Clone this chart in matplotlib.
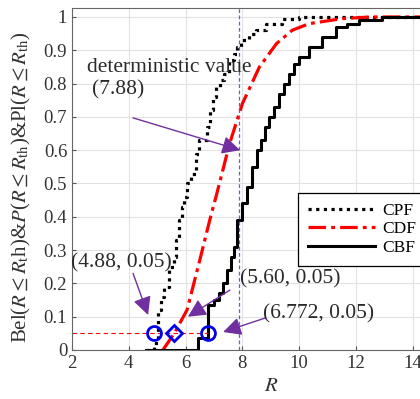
import matplotlib
matplotlib.use("Agg")
import matplotlib.pyplot as plt

plt.rcParams["font.family"] = ["Liberation Serif", "DejaVu Serif"]
plt.rcParams["mathtext.fontset"] = "stix"

# Cumulative plausibility function (step curve)
cpf_r = [4.60, 4.89, 5.02, 5.12, 5.24, 5.40, 5.58, 5.66, 5.77, 5.87, 5.94, 6.05,
         6.19, 6.37, 6.47, 6.75, 6.85, 6.95, 7.08, 7.20, 7.35, 7.53, 7.70, 7.80,
         7.95, 8.23, 8.48, 8.83, 9.40, 10.0, 14.5]
cpf_p = [0.00, 0.02, 0.12, 0.16, 0.19, 0.25, 0.28, 0.33, 0.39, 0.43, 0.46, 0.50,
         0.53, 0.59, 0.63, 0.67, 0.72, 0.76, 0.79, 0.81, 0.83, 0.87, 0.89, 0.91,
         0.93, 0.95, 0.96, 0.98, 0.994, 1.0, 1.0]

# Cumulative distribution function (smooth curve)
cdf_r = [5.20, 5.60, 6.05, 6.50, 6.85, 7.10, 7.55, 8.00, 8.60, 9.20, 9.75,
         10.35, 11.5, 12.5, 14.5]
cdf_p = [0.00, 0.05, 0.12, 0.27, 0.39, 0.47, 0.62, 0.74, 0.85, 0.92, 0.96,
         0.98, 0.995, 1.0, 1.0]

# Cumulative belief function (step curve)
cbf_r = [4.60, 6.42, 6.79, 7.00, 7.18, 7.30, 7.46, 7.60, 7.70, 7.80, 8.00, 8.17,
         8.34, 8.50, 8.65, 8.80, 8.94, 9.10, 9.29, 9.45, 9.64, 9.80, 10.0, 10.35,
         10.8, 11.3, 11.7, 12.1, 12.9, 14.5]
cbf_p = [0.00, 0.035, 0.135, 0.15, 0.17, 0.20, 0.24, 0.28, 0.31, 0.39, 0.44, 0.49,
         0.55, 0.60, 0.63, 0.67, 0.70, 0.73, 0.77, 0.80, 0.83, 0.86, 0.88, 0.91,
         0.94, 0.97, 0.98, 0.99, 1.0, 1.0]

# Thresholds at probability level 0.05 and the deterministic value
level = 0.05
pts_circle = [4.88, 6.772]
pt_diamond = 5.60
r_det = 7.88

purple = "#7030A0"

fig = plt.figure(figsize=(4.20, 3.99), dpi=100)
ax = fig.add_axes([72 / 420, 49 / 399, 397.6 / 420, 342 / 399])
ax.set_xlim(2, 16)
ax.set_ylim(0, 1.027)

ax.grid(True, color="#e2e2e2", linewidth=0.8)
ax.set_axisbelow(True)
ax.set_xticks([2, 4, 6, 8, 10, 12, 14])
ax.set_yticks([0, 0.1, 0.2, 0.3, 0.4, 0.5, 0.6, 0.7, 0.8, 0.9, 1.0])
ax.set_yticklabels(["0", "0.1", "0.2", "0.3", "0.4", "0.5", "0.6", "0.7", "0.8", "0.9", "1"])
ax.tick_params(direction="in", labelsize=13.5, color="#555555", length=3,
               labelcolor="#333333")
for s in ax.spines.values():
    s.set_color("#666666")
    s.set_linewidth(0.8)

ax.step(cpf_r, cpf_p, where="post", color="black", linestyle=(0, (1, 1.4)),
        linewidth=2.3, label="CPF")
ax.plot(cdf_r, cdf_p, color="red", linestyle=(0, (5.5, 1.6, 1.2, 1.6)),
        linewidth=2.3, label="CDF")
ax.step(cbf_r, cbf_p, where="post", color="black", linewidth=2.2, label="CBF")

ax.plot([2, pts_circle[1]], [level, level], color="red", linestyle=(0, (4, 3)),
        linewidth=0.8)
ax.axvline(r_det, color="#6060dd", linestyle=(0, (3, 2)), linewidth=0.9)

ax.plot(pts_circle, [level, level], linestyle="none", marker="o", markersize=10,
        markerfacecolor="none", markeredgecolor="#0000ee", markeredgewidth=2)
ax.plot([pt_diamond], [level], linestyle="none", marker="D", markersize=8,
        markerfacecolor="none", markeredgecolor="#0000ee", markeredgewidth=2)

arrow = dict(arrowstyle="-|>,head_length=1.1,head_width=0.55", color=purple,
             linewidth=1.0, shrinkA=0, shrinkB=0)
ax.annotate("", xy=(7.92, 0.60), xytext=(4.15, 0.697), arrowprops=arrow)
ax.annotate("", xy=(4.68, 0.105), xytext=(4.15, 0.23), arrowprops=arrow)
ax.annotate("", xy=(6.08, 0.10), xytext=(7.56, 0.18), arrowprops=arrow)
ax.annotate("", xy=(7.32, 0.054), xytext=(8.80, 0.096), arrowprops=arrow)

tfs = 15.5
tc = "#2a2a2a"
ax.text(2.53, 0.847, "deterministic value", fontsize=tfs, va="center", ha="left", color=tc)
ax.text(2.70, 0.78, "(7.88)", fontsize=tfs, va="center", ha="left", color=tc)
ax.text(1.98, 0.262, "(4.88, 0.05)", fontsize=tfs, va="center", ha="left", color=tc)
ax.text(7.92, 0.213, "(5.60, 0.05)", fontsize=tfs, va="center", ha="left", color=tc)
ax.text(8.73, 0.110, "(6.772, 0.05)", fontsize=tfs, va="center", ha="left", color=tc)

ax.set_xlabel(r"$R$", fontsize=15, labelpad=4, color="#333333")
ax.set_ylabel(r"Bel($R\leq R_{\mathrm{t}}$h)&$P$($R\leq R_{\mathrm{th}}$)&Pl($R\leq R_{\mathrm{th}}$)",
              fontsize=15, color="#333333")
ax.yaxis.set_label_coords(-0.098, 0.477)

leg = ax.legend(loc="upper left", bbox_to_anchor=((298 - 72) / 397.6, (350 - 193) / 342),
                borderaxespad=0, fontsize=12.5, handlelength=3.9, handletextpad=0.4,
                labelspacing=0.15, borderpad=0.55, fancybox=False,
                edgecolor="black", framealpha=1)
leg.get_frame().set_linewidth(0.9)

fig.savefig("out.png", dpi=100)
